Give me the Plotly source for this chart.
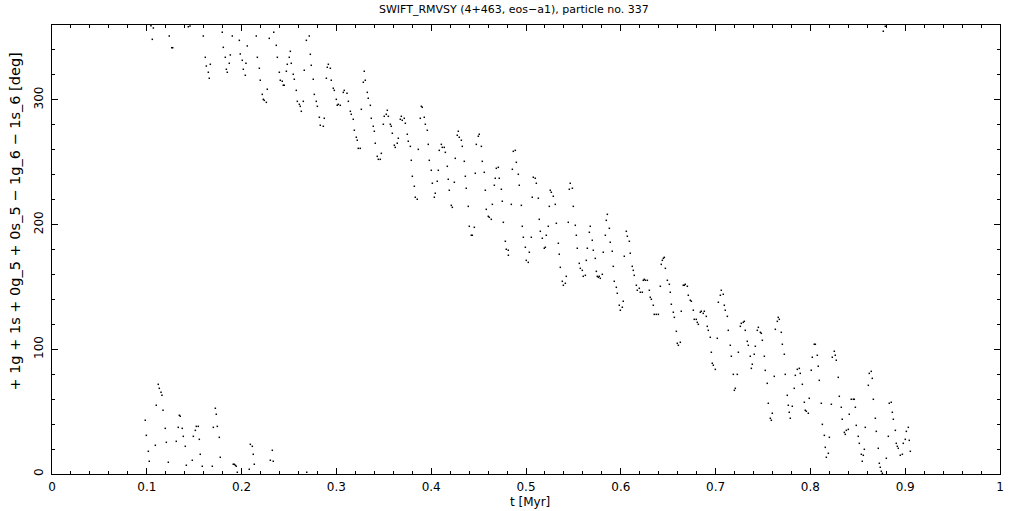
import plotly.graph_objects as go

# Resonant angle samples (t in Myr, angle in degrees)
t_a = [0.1044,0.1069,0.1058,0.1237,0.1263,0.1273,0.1438,0.1456,0.1596,0.1617,0.1628,0.1670,0.1649,0.1659,0.1796,0.1807,0.1828,0.1881,0.1870,0.1839,0.1849,0.1902,0.1976,0.1986,0.2007,0.2046,0.2018,0.2039,0.2060,0.2155,0.2166,0.2187,0.2197,0.2271,0.2218,0.2229,0.2239,0.2261,0.2292,0.2339,0.2366,0.2377,0.2398,0.2408,0.2429,0.2440,0.2450,0.2472,0.2482,0.2503,0.2514,0.2524,0.2545,0.2556,0.2577,0.2588,0.2609,0.2619,0.2630,0.2651,0.2661,0.2683,0.2714,0.2725,0.2735,0.2756,0.2767,0.2788,0.2799,0.2820,0.2872,0.2830,0.2862,0.2915,0.2904,0.2936,0.2894,0.2946,0.2967,0.2978,0.2999,0.3020,0.3009,0.3041,0.3083,0.3073,0.3112,0.3126]
deg_a = [359.4,357.6,348.5,351.2,341.8,341.8,358.6,359.2,351.2,334.1,327.1,328.5,322.1,317.3,354.2,342.1,334.1,336.0,329.3,324.5,322.1,351.2,347.7,336.8,331.7,329.3,324.5,319.7,343.2,351.2,334.1,325.3,315.7,308.5,304.4,300.4,299.6,298.0,349.3,354.2,343.7,334.1,322.1,315.7,314.9,311.7,311.7,322.9,328.5,334.1,338.9,329.3,320.5,316.5,307.6,298.8,296.4,294.8,290.8,298.8,323.7,347.7,351.2,336.5,327.7,316.5,304.4,298.8,294.8,286.0,285.2,279.6,278.8,328.5,326.1,325.3,317.3,315.7,309.3,307.6,300.4,296.4,295.6,295.6,307.6,306.0,305.2,298.8]

t_b = [0.1121,0.1132,0.1150,0.1160,0.1100,0.1171,0.0984,0.0995,0.1016,0.1026,0.1090,0.1195,0.1206,0.1227,0.1343,0.1353,0.1332,0.1374,0.1311,0.1385,0.1406,0.1417,0.1480,0.1491,0.1512,0.1522,0.1543,0.1554,0.1564,0.1585,0.1691,0.1702,0.1723,0.1733,0.1744,0.1765,0.1775,0.1912,0.1923,0.1934,0.1944,0.1955,0.2081,0.2092,0.2113,0.2123,0.2134,0.2303,0.2334,0.2324,0.2687]
deg_b = [71.9,68.7,65.5,63.1,55.1,51.1,43.1,31.0,18.2,10.2,23.0,36.6,25.4,9.4,47.1,46.3,37.4,36.6,26.2,30.2,22.2,7.0,11.0,30.2,35.0,38.2,38.2,27.8,15.8,6.2,6.2,37.4,52.7,47.9,38.2,29.4,13.4,7.8,7.8,7.0,6.2,1.4,3.8,23.8,22.2,15.8,7.8,11.0,10.2,19.0,1.4]

t_c = [0.3294,0.3284,0.3305,0.3326,0.3336,0.3358,0.3263,0.3147,0.3157,0.3178,
       0.3189,0.3210,0.3220,0.3231,0.3252,0.3368,0.3389,0.3400,0.3410,0.3431,
       0.3442,0.3463,0.3474,0.3495,0.3505,0.3526,0.3537,0.3548,0.3569,0.3579,
       0.3590,0.3611,0.3621,0.3642,0.3653,0.3685,0.3674,0.3695,0.3716,0.3727,
       0.3748,0.3758,0.3780,0.3790,0.3801,0.3822,0.3832,0.3853,0.3864,0.3896,
       0.3906,0.3885,0.3927,0.3938,0.3959,0.3969,0.3980,0.4001,0.4012,0.4033,
       0.4043,0.4064,0.4075,0.4085,0.4107,0.4117,0.4138,0.4149,0.4170,0.4180,
       0.4191,0.4212,0.4223,0.4244,0.4254,0.4286,0.4275,0.4296,0.4318,0.4328,
       0.4349,0.4360,0.4370,0.4391,0.4402,0.4455,0.4423,0.4434,0.4465,0.4476,
       0.4497,0.4507,0.4529,0.4539,0.4560,0.4571,0.4581,0.4602,0.4613,0.4634,
       0.4645,0.4666,0.4676,0.4687,0.4708,0.4718,0.4740,0.4750,0.4761,0.4782,
       0.4792,0.4813,0.4814,0.4845,0.4856,0.4866,0.4887,0.4898,0.4919,0.4929,
       0.4951,0.4961,0.4972,0.4993,0.5035,0.5056,0.5066,0.5077,0.5098,0.5109,
       0.5130,0.5140,0.5151,0.5172,0.5193,0.5204,0.5214,0.5235,0.5246,0.5003,
       0.5024]
deg_c = [322.9,314.1,315.7,306.0,301.2,295.6,292.4,290.8,288.4,284.4,
         275.6,270.0,267.6,261.1,261.1,285.2,278.8,274.8,265.2,254.7,
         252.3,252.3,257.1,280.4,286.8,288.4,291.6,286.8,280.4,278.8,
         273.2,263.6,261.9,265.2,269.2,286.8,284.4,283.6,285.2,281.2,
         272.4,266.8,262.7,251.5,238.7,230.7,221.9,220.3,260.3,294.8,
         294.0,285.2,286.0,280.4,275.6,264.3,251.5,243.5,233.1,221.9,
         225.1,234.7,243.5,259.5,264.3,261.9,261.9,257.9,246.7,236.3,
         227.5,215.4,213.8,233.9,253.1,274.8,271.6,270.0,267.6,262.7,
         250.7,238.7,229.1,214.6,198.6,197.8,191.4,191.4,241.1,264.3,
         270.8,272.4,262.7,250.7,241.9,227.5,212.2,206.6,205.8,204.2,
         216.2,231.5,237.1,245.1,245.9,237.1,228.3,218.7,201.8,186.6,
         180.2,179.4,175.4,216.2,244.3,258.7,259.5,249.9,240.3,231.5,
         215.4,198.6,189.8,181.8,177.8,189.8,221.9,237.9,237.1,233.1,
         221.1,204.2,194.6,189.0,181.0,181.8,191.4,198.6,214.6,171.3,
         169.7]

t_d = [0.5256,0.5267,0.5288,0.5309,0.5320,0.5341,0.5351,0.5362,0.5383,0.5394,
       0.5415,0.5425,0.5446,0.5457,0.5467,0.5489,0.5499,0.5520,0.5531,0.5541,
       0.5562,0.5573,0.5594,0.5604,0.5626,0.5636,0.5647,0.5668,0.5678,0.5699,
       0.5710,0.5731,0.5742,0.5752,0.5773,0.5763,0.5784,0.5805,0.5815,0.5837,
       0.5847,0.5858,0.5879,0.5889,0.5910,0.5921,0.5931,0.5953,0.5963,0.5984,
       0.5995,0.6016,0.6026,0.6037,0.6058,0.6069,0.6090,0.6100,0.6121,0.6132,
       0.6142,0.6164,0.6174,0.6195,0.6206,0.6227,0.6237,0.6248,0.6259,0.6280,
       0.6301,0.6311,0.6322,0.6343,0.6353,0.6374,0.6396,0.6417,0.6427,0.6438,
       0.6449,0.6459,0.6470,0.6491,0.6512,0.6522,0.6533,0.6554,0.6565,0.6586,
       0.6596,0.6607,0.6628,0.6638,0.6659,0.6670,0.6680,0.6702,0.6712,0.6733,
       0.6744,0.6765,0.6775,0.6796,0.6807,0.6818,0.6839,0.6849,0.6870,0.6881,
       0.6902,0.6912,0.6923,0.6944,0.7018,0.7029,0.7050,0.7060,0.7081,0.7092,
       0.7102,0.7124,0.7134,0.7155,0.7261,0.7271,0.7292,0.7303,0.7313,0.7334,
       0.7345]
deg_d = [227.5,225.9,222.7,216.2,201.0,185.0,176.2,165.7,154.5,151.3,
         152.9,158.5,201.8,228.3,233.1,229.1,214.6,199.4,191.4,181.0,
         168.9,164.9,163.3,158.5,159.3,171.3,181.0,193.8,198.6,187.4,
         179.4,172.9,162.5,158.5,158.5,157.7,156.9,160.1,177.8,191.4,
         203.4,208.2,197.0,185.8,178.6,166.5,154.5,149.7,144.9,135.3,
         131.3,133.7,138.5,174.6,194.6,190.6,186.6,177.0,166.5,163.3,
         159.3,151.3,147.3,148.9,145.7,145.7,155.3,156.1,155.3,155.3,
         147.3,141.7,140.1,135.3,128.0,128.0,128.0,150.5,168.1,171.3,
         172.9,173.7,164.9,155.3,152.1,145.7,136.1,129.7,125.6,114.4,
         104.8,103.2,105.6,130.5,151.3,151.3,152.1,150.5,143.3,139.3,
         138.5,131.3,124.0,124.0,121.6,120.0,129.7,130.5,128.8,130.5,
         126.4,118.4,115.2,109.6,108.8,137.7,143.3,147.3,144.1,135.3,
         131.3,126.4,115.2,103.2,118.4,120.8,121.6,122.4,115.2,106.4,
         103.2]

t_e = [0.6955,0.6965,0.6976,0.6997,0.7166,0.7187,0.7229,0.7198,0.7208,0.7240,
       0.7366,0.7377,0.7387,0.7408,0.7419,0.7440,0.7451,0.7472,0.7482,0.7493,
       0.7514,0.7524,0.7545,0.7556,0.7577,0.7588,0.7598,0.7619,0.7630,0.7651,
       0.7661,0.7672,0.7693,0.7704,0.7725,0.7735,0.7756,0.7767,0.7777,0.7788,
       0.7809,0.7830,0.7841,0.7862,0.7883,0.7893,0.7915,0.7936,0.7946,0.7957,
       0.7978,0.7988,0.8009,0.8020,0.8041,0.8052,0.8073,0.8083,0.8094,0.8115,
       0.8126,0.8147,0.8157,0.8168,0.8189,0.8200,0.8221,0.8231,0.8252,0.8262,
       0.8273,0.8294,0.8305,0.8326,0.8336,0.8358,0.8368,0.8379,0.8400,0.8410,
       0.8431,0.8453,0.8463,0.8474,0.8484,0.8505,0.8516,0.8537,0.8547,0.8558,
       0.8569,0.8579,0.8611,0.8621,0.8642,0.8653,0.8664,0.8685,0.8695,0.8716,
       0.8727,0.8737,0.8748,0.8759,0.8801,0.8822,0.8832,0.8853,0.8864,0.8875,
       0.8896,0.8906,0.8917,0.8927,0.8948,0.8970,0.8980,0.9001,0.9012,0.9033,
       0.9043,0.9054,0.8769,0.8790]
deg_e = [97.6,88.8,87.2,83.9,94.4,79.9,79.9,67.1,68.7,97.6,
         94.4,84.7,88.0,96.0,102.4,115.2,117.6,113.6,112.8,107.2,
         94.4,83.1,72.7,56.7,44.7,43.1,48.7,78.3,116.0,122.4,
         125.6,124.0,113.6,104.0,96.0,79.9,63.1,55.1,49.5,44.7,
         54.3,68.7,79.1,83.9,84.7,80.7,71.9,57.5,51.1,50.3,
         48.7,60.7,83.1,93.6,104.0,104.0,95.2,86.4,75.1,56.7,
         39.8,31.0,21.4,13.4,16.6,29.4,55.9,93.6,98.4,95.2,
         91.2,77.5,62.3,53.5,43.9,33.4,31.8,35.0,35.8,47.9,
         59.9,59.9,59.9,53.5,39.0,30.2,24.6,15.8,10.2,15.0,
         19.8,37.4,71.1,80.7,82.3,76.7,59.9,44.7,34.2,20.6,
         8.6,5.4,2.2,0.6,12.6,30.2,56.7,57.5,49.5,43.9,
         35.0,24.6,22.2,20.6,15.0,15.8,24.6,27.8,34.2,37.4,
         27.0,18.2,355.0,359.0]

title_text = "SWIFT_RMVSY (4+463, eos\u2212a1), particle no. 337"
x_title = "t [Myr]"
y_title = "+ 1g + 1s + 0g_5 + 0s_5 \u2212 1g_6 \u2212 1s_6 [deg]"

t_all = t_a + t_b + t_c + t_d + t_e
deg_all = deg_a + deg_b + deg_c + deg_d + deg_e

FONT = "DejaVu Sans"

fig = go.Figure()
fig.add_trace(go.Scatter(
    x=t_all, y=deg_all, mode="markers",
    marker=dict(symbol="square", size=1.5, color="black", line=dict(width=0)),
    hoverinfo="skip", showlegend=False,
))

axis_common = dict(
    showline=True, linecolor="black", linewidth=1, mirror="allticks",
    ticks="inside", tickcolor="black", tickwidth=1, ticklen=6,
    showgrid=False, zeroline=False, automargin=False,
    tickfont=dict(family=FONT, size=12, color="black"),
)

fig.update_xaxes(
    range=[0, 1], tick0=0, dtick=0.1,
    minor=dict(ticks="inside", dtick=0.02, ticklen=3, tickcolor="black", showgrid=False),
    ticklabelstandoff=2,
    **axis_common,
)
fig.update_yaxes(
    range=[0, 360], tick0=0, dtick=100, tickangle=-90,
    minor=dict(ticks="inside", dtick=20, ticklen=3, tickcolor="black", showgrid=False),
    ticklabelstandoff=3,
    **axis_common,
)

fig.update_layout(
    width=1021, height=511,
    margin=dict(l=52, r=21, t=25, b=37, pad=0),
    paper_bgcolor="white", plot_bgcolor="white",
    font=dict(family=FONT, color="black"),
    hovermode=False,
    annotations=[
        dict(text=title_text, xref="paper", yref="paper", x=0.487, y=1.034,
             xanchor="center", yanchor="middle", showarrow=False,
             font=dict(family=FONT, size=11, color="black")),
        dict(text=x_title, xref="paper", yref="paper", x=0.504, y=-0.063,
             xanchor="center", yanchor="middle", showarrow=False,
             font=dict(family=FONT, size=12, color="black")),
        dict(text=y_title, xref="paper", yref="paper", x=-0.0385, y=0.561,
             xanchor="center", yanchor="middle", showarrow=False, textangle=-90,
             font=dict(family=FONT, size=14.5, color="black")),
    ],
)

# remove the default page margin so the figure sits at the window's top-left corner
fig.write_html("out.html", config={"displayModeBar": False},
               post_script="document.body.style.margin='0';")
